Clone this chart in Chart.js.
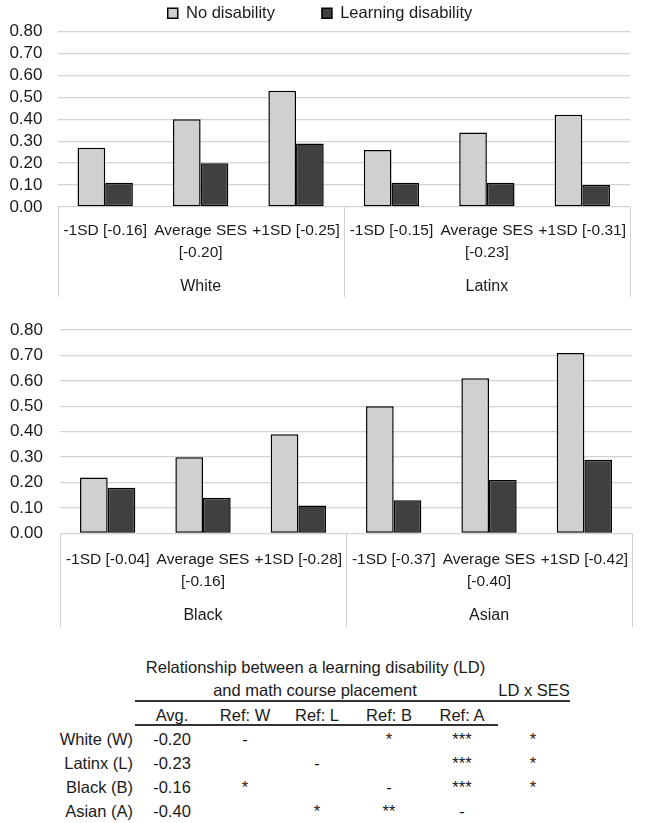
<!DOCTYPE html>
<html>
<head>
<meta charset="utf-8">
<script src="https://cdn.jsdelivr.net/npm/chart.js@4.4.1/dist/chart.umd.min.js"></script>
<style>
  html, body { margin: 0; padding: 0; background: #ffffff; }
  body { width: 645px; height: 823px; position: relative; overflow: hidden;
         font-family: "Liberation Sans", Arial, sans-serif; color: #1a1a1a; }
  .box { position: absolute; left: 0; width: 645px; }
  .t { position: absolute; white-space: nowrap; font-size: 16.5px; line-height: 20px; }
  .c { transform: translate(-50%, -50%); }
  .r { transform: translate(-100%, -50%); }
  .rule { position: absolute; background: #333333; }
</style>
</head>
<body>
<div class="box" style="top:0;height:300px;"><canvas id="chartTop"></canvas></div>
<div class="box" style="top:300px;height:330px;"><canvas id="chartBottom"></canvas></div>
<div id="table"></div>
<script>
// ---------------- data ----------------
const seriesNames = ['No disability', 'Learning disability'];

const categoriesTop = ['-1SD [-0.16]', ['Average SES', '[-0.20]'], '+1SD [-0.25]',
                       '-1SD [-0.15]', ['Average SES', '[-0.23]'], '+1SD [-0.31]'];
const groupsTop = ['White', 'Latinx'];
const noDisabilityTop = [0.27, 0.40, 0.53, 0.26, 0.34, 0.42];
const learningDisabilityTop = [0.11, 0.20, 0.29, 0.11, 0.11, 0.10];

const categoriesBottom = ['-1SD [-0.04]', ['Average SES', '[-0.16]'], '+1SD [-0.28]',
                          '-1SD [-0.37]', ['Average SES', '[-0.40]'], '+1SD [-0.42]'];
const groupsBottom = ['Black', 'Asian'];
const noDisabilityBottom = [0.22, 0.30, 0.39, 0.50, 0.61, 0.71];
const learningDisabilityBottom = [0.18, 0.14, 0.11, 0.13, 0.21, 0.29];

const yTickMax = 0.8;
const yTickStep = 0.1;

// table
const tableTitle1 = 'Relationship between a learning disability (LD)';
const tableTitle2 = 'and math course placement';
const tableTitle3 = 'LD x SES';
const tableHeaders = ['Avg.', 'Ref: W', 'Ref: L', 'Ref: B', 'Ref: A'];
const rowLabels = ['White (W)', 'Latinx (L)', 'Black (B)', 'Asian (A)'];
const avgValues = ['-0.20', '-0.23', '-0.16', '-0.40'];
const refW = ['-', '', '*', ''];
const refL = ['', '-', '', '*'];
const refB = ['*', '', '-', '**'];
const refA = ['***', '***', '***', '-'];
const ldBySes = ['*', '*', '*', ''];

// ---------------- styling ----------------
const TEXT = '#1a1a1a';
const GRID = '#d3d3d3';
const LIGHT = '#d0d0d0';
const DARK = '#404040';
const FONT = '"Liberation Sans", Arial, sans-serif';

Chart.defaults.font.family = FONT;
Chart.defaults.color = TEXT;

const LEGEND_PAD = 47;

const groupSeparators = {
  id: 'groupSeparators',
  afterLayout(chart) {
    if (chart.legend && chart.options.plugins.legend.display) {
      chart.legend.top = 5 - LEGEND_PAD;
      chart.legend.left = 5;
      chart.legend.right = chart.width - 10;
    }
  },
  afterDraw(chart) {
    const x = chart.scales.x, x2 = chart.scales.x2;
    const n = x.ticks.length;
    const per = n / x2.ticks.length;
    const ctx = chart.ctx;
    ctx.save();
    ctx.strokeStyle = GRID;
    ctx.lineWidth = 1;
    for (let g = 0; g <= x2.ticks.length; g++) {
      const i = g * per;
      let px;
      if (i === 0) px = x.left;
      else if (i === n) px = x.right;
      else px = (x.getPixelForTick(i - 1) + x.getPixelForTick(i)) / 2;
      px = Math.round(px) + 0.5;
      ctx.beginPath();
      ctx.moveTo(px, chart.chartArea.bottom);
      ctx.lineTo(px, x2.bottom);
      ctx.stroke();
    }
    ctx.restore();
  }
};

function makeChart(id, labels, groups, noDis, ld, cfg) {
  return new Chart(document.getElementById(id), {
    type: 'bar',
    data: {
      labels: labels,
      datasets: [
        { label: seriesNames[0], data: noDis, backgroundColor: LIGHT, borderColor: '#000000',
          borderWidth: 1.5, borderSkipped: false, categoryPercentage: 0.58, barPercentage: 1.0 },
        { label: seriesNames[1], data: ld, backgroundColor: DARK, borderColor: '#000000',
          borderWidth: 1.5, borderSkipped: false, categoryPercentage: 0.58, barPercentage: 1.0 }
      ]
    },
    options: {
      responsive: true,
      maintainAspectRatio: false,
      animation: false,
      events: [],
      layout: { padding: cfg.padding },
      plugins: {
        tooltip: { enabled: false },
        legend: cfg.showLegend ? {
          display: true, position: 'top', maxHeight: 28,
          labels: { boxWidth: 10, boxHeight: 10, padding: LEGEND_PAD, color: TEXT,
                    font: { size: 16.5 } }
        } : { display: false }
      },
      scales: {
        x: {
          type: 'category', offset: true,
          grid: { display: false, drawTicks: false },
          border: { display: false },
          afterFit: s => { s.height = cfg.xHeight; },
          ticks: { maxRotation: 0, minRotation: 0, autoSkip: false, padding: cfg.tickPad,
                   color: TEXT, font: { size: 15.5, lineHeight: 1.38 } }
        },
        x2: {
          type: 'category', labels: groups, offset: true, position: 'bottom',
          grid: { display: false, drawTicks: false },
          border: { display: false },
          afterFit: s => { s.height = cfg.x2Height; },
          ticks: { maxRotation: 0, minRotation: 0, autoSkip: false, padding: cfg.groupPad,
                   color: TEXT, font: { size: 16, lineHeight: 1.3 } }
        },
        y: {
          min: 0, max: yTickMax,
          grid: { color: GRID, lineWidth: 1.3, drawTicks: false },
          border: { display: false },
          afterFit: s => { s.width = cfg.yWidth; },
          ticks: { stepSize: yTickStep, padding: cfg.yPad, autoSkip: false, color: TEXT,
                   font: { size: 17 }, callback: v => Number(v).toFixed(2) }
        }
      }
    },
    plugins: [groupSeparators]
  });
}

makeChart('chartTop', categoriesTop, groupsTop, noDisabilityTop, learningDisabilityTop, {
  showLegend: true,
  padding: { top: 3.5, left: 0, right: 15, bottom: 3 },
  xHeight: 60, x2Height: 30, yWidth: 57.5, yPad: 15,
  tickPad: 13.4, groupPad: 9.6
});
makeChart('chartBottom', categoriesBottom, groupsBottom, noDisabilityBottom, learningDisabilityBottom, {
  showLegend: false,
  padding: { top: 30, left: 0, right: 11, bottom: 3 },
  xHeight: 60, x2Height: 33.6, yWidth: 60, yPad: 17,
  tickPad: 16, groupPad: 12.2
});

// ---------------- table ----------------
const table = document.getElementById('table');
function put(text, x, y, cls) {
  const d = document.createElement('div');
  d.className = 't ' + cls;
  d.style.left = x + 'px';
  d.style.top = y + 'px';
  d.textContent = text;
  table.appendChild(d);
}
function rule(x, y, w, h) {
  const d = document.createElement('div');
  d.className = 'rule';
  d.style.left = x + 'px'; d.style.top = y + 'px';
  d.style.width = w + 'px'; d.style.height = h + 'px';
  table.appendChild(d);
}
const colX = [172, 245, 317, 389, 462, 533];
const rowY = [739, 763, 787, 811];
put(tableTitle1, 315.5, 667, 'c');
put(tableTitle2, 315, 690, 'c');
put(tableTitle3, 534, 690, 'c');
rule(135, 700, 435, 2);
tableHeaders.forEach((h, i) => put(h, colX[i], 715, 'c'));
rule(135, 724, 363, 2);
const cols = [avgValues, refW, refL, refB, refA, ldBySes];
rowLabels.forEach((lab, r) => {
  put(lab, 133, rowY[r], 'r');
  cols.forEach((col, c) => { if (col[r]) put(col[r], colX[c], rowY[r], 'c'); });
});
</script>
</body>
</html>
